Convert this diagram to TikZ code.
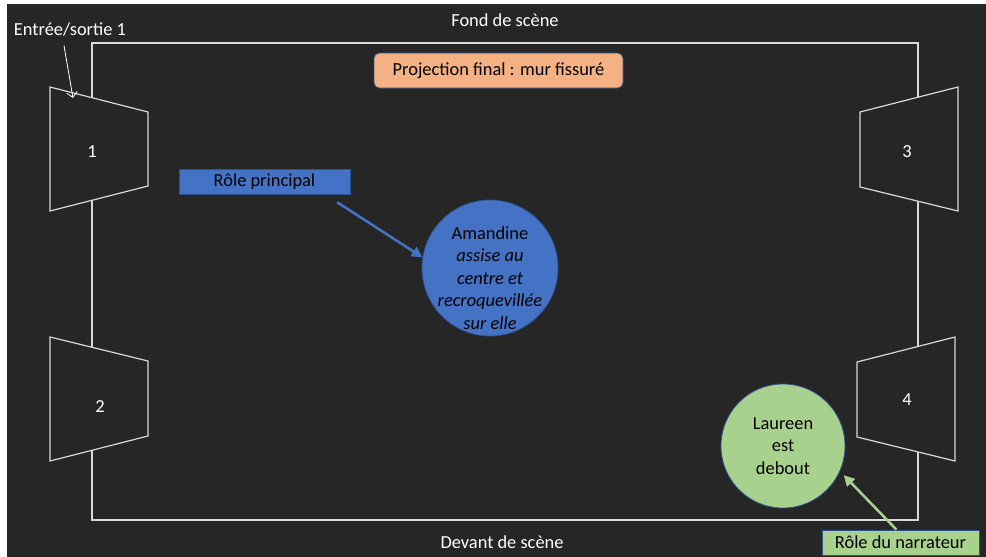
\documentclass[tikz,border=0pt]{standalone}
\usepackage{fontspec}
\setmainfont{Carlito}
\usetikzlibrary{arrows.meta, positioning}
\definecolor{fondnoir}{HTML}{262626}
\definecolor{trait}{HTML}{D9D9D9}
\definecolor{bleuperso}{HTML}{4472C4}
\definecolor{bordbleu}{HTML}{2F528F}
\definecolor{orangeproj}{HTML}{F4B183}
\definecolor{vertnarr}{HTML}{A9D18E}
\tikzset{
  coulisse/.style={draw=trait, line width=0.9pt, fill=fondnoir},
  texteblanc/.style={text=white, font=\fontsize{13.8}{16}\selectfont},
  etiquette/.style={draw=bordbleu, line width=0.5pt, text=black, inner sep=0pt,
    font=\fontsize{13.8}{16}\selectfont},
  perso/.style={circle, draw=bordbleu, line width=0.6pt, inner sep=0pt, text=black,
    align=center, font=\fontsize{13.8}{16.8}\selectfont},
  flecheperso/.style={line width=1.9pt, -{Triangle[length=8pt,width=8pt]}}
}
\begin{document}
\begin{tikzpicture}[x=0.75pt,y=-0.75pt]
\useasboundingbox (0,0) rectangle (986,557);
\fill[white] (0,0) rectangle (986,557);
\fill[fondnoir] (7,4) rectangle (986,557);

% plateau
\draw[trait, line width=0.9pt] (92,43) rectangle (918,520);
\node[texteblanc] (fond) at (505,20) {Fond de scène};
\node[texteblanc] (devant) at (502,542) {Devant de scène};

% entrees / sorties
\draw[coulisse] (50,87) -- (148,112) -- (148,186) -- (50,211) -- cycle;
\node[texteblanc] (p1) at (92,152) {1};
\draw[coulisse] (50,337) -- (148,361) -- (148,436) -- (50,461) -- cycle;
\node[texteblanc] (p2) at (100,407) {2};
\draw[coulisse] (958,87) -- (860,112) -- (860,187) -- (958,211) -- cycle;
\node[texteblanc] (p3) at (907,152) {3};
\draw[coulisse] (955,337) -- (857,362) -- (857,437) -- (955,461) -- cycle;
\node[texteblanc] (p4) at (907,400) {4};

\node[texteblanc] (entree) at (70,30) {Entrée/sortie 1};
\coordinate (porte1) at (73,98);
\draw[white, line width=0.6pt, -{Straight Barb[length=4pt]}] (entree.south) ++(-6,4) -- (porte1);

\node[etiquette, fill=orangeproj, rounded corners=4pt, minimum width=186.75pt,
  minimum height=26.25pt] (projection) at (498.5,70.5) {Projection final : mur fissuré};

% personnages
\node[etiquette, fill=bleuperso, minimum width=128.25pt, minimum height=18.75pt]
  (principal) at (264.5,181.5) {Rôle principal};
\node[perso, fill=bleuperso, minimum size=102pt,
  label={[align=center, text=black, font=\fontsize{13.8}{16.8}\selectfont, yshift=-7.5pt]center:Amandine\\
  \itshape assise au\\ \itshape centre et\\ \itshape recroquevillée\\ \itshape sur elle}]
  (amandine) at (490,268) {};
\draw[flecheperso, bleuperso] ([shift={(-13,8)}]principal.south east) -- (amandine.171);

\node[perso, fill=vertnarr, minimum size=93pt] (laureen) at (783,446) {Laureen\\est\\debout};
\node[etiquette, fill=vertnarr, minimum width=117.75pt, minimum height=18.75pt]
  (narrateur) at (900.5,542.5) {Rôle du narrateur};
\draw[flecheperso, vertnarr, shorten >=4pt] ([xshift=-3]narrateur.north) -- (laureen.-24);
\end{tikzpicture}
\end{document}
